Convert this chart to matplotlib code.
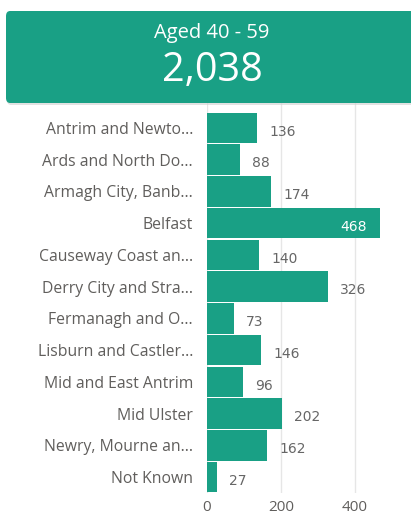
import matplotlib
matplotlib.use('Agg')
import matplotlib.pyplot as plt
from matplotlib.patches import FancyBboxPatch
import numpy as np

# data
categories = ['Antrim and Newto...', 'Ards and North Do...', 'Armagh City, Banb...',
              'Belfast', 'Causeway Coast an...', 'Derry City and Stra...',
              'Fermanagh and O...', 'Lisburn and Castler...', 'Mid and East Antrim',
              'Mid Ulster', 'Newry, Mourne an...', 'Not Known']
values = [136, 88, 174, 468, 140, 326, 73, 146, 96, 202, 162, 27]
card_title = 'Aged 40 - 59'
card_value = '2,038'
xticks = [0, 200, 400]

W, H = 411, 515
teal = '#19a085'
gray = '#605e5c'

fig = plt.figure(figsize=(W / 100, H / 100), dpi=100)
fig.patch.set_facecolor('white')

# axes in pixel coords
x0, x1 = 207, 399.4
ytop, ybot = 100, 493
ax = fig.add_axes([x0 / W, 1 - ybot / H, (x1 - x0) / W, (ybot - ytop) / H])
row_px = (493 - 112) / 12
extra = (112 - ytop) / row_px
ax.set_xlim(0, 520)
ax.set_ylim(11.5, -0.5 - extra)

y = np.arange(len(categories))
ax.barh(y, values, height=0.96, color=teal, zorder=2)
ax.set_yticks(y)
ax.set_yticklabels(categories, fontsize=11.3, color=gray, family='Open Sans')
ax.set_xticks(xticks)
ax.set_xticklabels([str(t) for t in xticks], fontsize=11, color=gray, family='Open Sans')
ax.tick_params(axis='both', length=0)
ax.tick_params(axis='y', pad=10)
ax.tick_params(axis='x', pad=5)
for s in ax.spines.values():
    s.set_visible(False)
ax.grid(axis='x', color='#e6e6e6', linewidth=1, zorder=0)
ax.set_axisbelow(True)

for i, v in enumerate(values):
    if v > 400:
        ax.text(v - 36, i + 0.12, str(v), ha='right', va='center', color='white',
                fontsize=10, family='DejaVu Sans', zorder=3)
    else:
        ax.text(v + 33, i + 0.12, str(v), ha='left', va='center', color='#666666',
                fontsize=10, family='DejaVu Sans', zorder=3)

# card with shadow
def px(x, yy):
    return x / W, 1 - yy / H

cx, cy = px(6, 103)
cw, ch = (418 - 6) / W, (103 - 11) / H
shadow = FancyBboxPatch((cx + 1 / W, cy - 2 / H), cw, ch,
                        boxstyle='round,pad=0,rounding_size=0.01',
                        transform=fig.transFigure, facecolor='#cfcfcf',
                        edgecolor='none', alpha=0.6, zorder=4)
card = FancyBboxPatch((cx, cy), cw, ch,
                      boxstyle='round,pad=0,rounding_size=0.01',
                      transform=fig.transFigure, facecolor=teal,
                      edgecolor='none', zorder=5)
fig.patches.extend([shadow, card])

tx, ty = px(212, 33)
fig.text(tx, ty, card_title, ha='center', va='center', color='white',
         fontsize=14.5, family='Open Sans', zorder=6)
vx, vy = px(212, 71)
fig.text(vx, vy, card_value, ha='center', va='center', color='white',
         fontsize=28.5, family='Open Sans', zorder=6)

fig.savefig('out.png', dpi=100)
